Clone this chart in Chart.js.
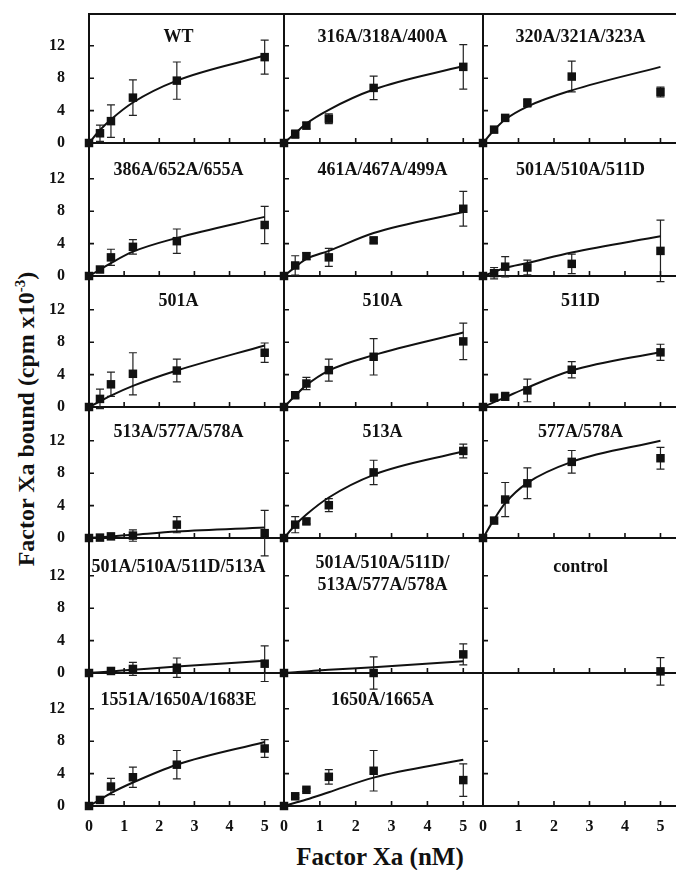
<!DOCTYPE html>
<html>
<head>
<meta charset="utf-8">
<script src="https://cdn.jsdelivr.net/npm/chart.js@4.4.0/dist/chart.umd.min.js"></script>
<style>
  body { margin: 0; width: 676px; height: 870px; background: #fff; overflow: hidden; position: relative; font-family: "Liberation Serif", "DejaVu Serif", serif; }
  canvas { position: absolute; }
  .axis-title { position: absolute; font-weight: bold; font-size: 24px; white-space: nowrap; color: #111; }
  #ytitle { left: 26px; top: 419px; transform: translate(-50%, -50%) rotate(-90deg); }
  #xtitle { left: 380px; top: 857px; transform: translate(-50%, -50%); font-size: 25px; }
  sup { font-size: 15px; }
</style>
</head>
<body>
<div class="axis-title" id="ytitle">Factor Xa bound (cpm x10<sup>-3</sup>)</div>
<div class="axis-title" id="xtitle">Factor Xa (nM)</div>
<script>
// Factor Xa concentrations (nM)
const xNM = [0, 0.3125, 0.625, 1.25, 2.5, 5];
const xTickVals = [0, 1, 2, 3, 4, 5];
const yTickVals = [0, 4, 8, 12];

// panels, row by row (3 per row)
const panelLabels = [
  'WT', '316A/318A/400A', '320A/321A/323A',
  '386A/652A/655A', '461A/467A/499A', '501A/510A/511D',
  '501A', '510A', '511D',
  '513A/577A/578A', '513A', '577A/578A',
  '501A/510A/511D/513A', ['501A/510A/511D/', '513A/577A/578A'], 'control',
  '1551A/1650A/1683E', '1650A/1665A', ''
];

// bound (cpm x10^-3), mean of measurements
const meanBound = [
  [0, 1.2, 2.7, 5.6, 7.7, 10.6],
  [0, 1.1, 2.15, 3.0, 6.8, 9.4],
  [0, 1.65, 3.1, 4.95, 8.2, 6.3],
  [0, 0.8, 2.3, 3.6, 4.3, 6.3],
  [0, 1.3, 2.45, 2.3, 4.4, 8.3],
  [0, 0.35, 1.15, 1.05, 1.5, 3.1],
  [0, 1.0, 2.8, 4.1, 4.5, 6.7],
  [0, 1.45, 2.9, 4.55, 6.2, 8.1],
  [0, 1.15, 1.3, 2.05, 4.6, 6.75],
  [0, 0.05, 0.2, 0.3, 1.65, 0.6],
  [0, 1.65, 2.05, 4.05, 8.1, 10.75],
  [0, 2.15, 4.75, 6.75, 9.4, 9.85],
  [0, null, 0.25, 0.5, 0.65, 1.15],
  [0, null, null, null, 0, 2.3],
  [null, null, null, null, null, 0.2],
  [0, 0.75, 2.4, 3.55, 5.1, 7.1],
  [0, 1.2, 2.0, 3.6, 4.35, 3.2],
  null
];

// standard deviation
const sdBound = [
  [0, 1.0, 2.0, 2.2, 2.3, 2.1],
  [0, 0.5, 0.4, 0.6, 1.45, 2.75],
  [0, 0.3, 0.3, 0.5, 1.9, 0.6],
  [0, 0.3, 1.0, 0.9, 1.5, 2.3],
  [0, 1.2, 0.4, 1.1, 0.3, 2.15],
  [0, 0.7, 1.25, 0.9, 1.2, 3.8],
  [0, 1.2, 1.5, 2.6, 1.4, 1.2],
  [0, 0.3, 0.75, 1.35, 2.25, 2.25],
  [0, 0.3, 0.5, 1.4, 1.0, 1.0],
  [0, 0.2, 0.3, 0.7, 1.0, 2.8],
  [0, 1.0, 0.3, 0.8, 1.5, 0.85],
  [0, 0.3, 2.1, 1.9, 1.4, 1.35],
  [0, 0, 0.2, 0.8, 1.2, 2.2],
  [0, 0, 0, 0, 2.0, 1.3],
  [0, 0, 0, 0, 0, 1.7],
  [0, 0.3, 1.0, 1.25, 1.75, 1.1],
  [0, 0.2, 0.2, 0.9, 2.5, 2.0],
  null
];

// fitted binding curve
const fitBound = [
  [0, 1.6, 2.9, 5.0, 7.7, 10.8],
  [0, 1.2, 2.4, 4.1, 6.6, 9.5],
  [0, 1.6, 2.9, 4.5, 6.5, 9.4],
  [0, 0.8, 1.6, 3.0, 4.7, 7.3],
  [0, 1.1, 2.1, 3.1, 5.3, 7.9],
  [0, 0.5, 1.0, 1.6, 2.9, 4.9],
  [0, 0.7, 1.4, 2.6, 4.5, 7.6],
  [0, 1.4, 2.7, 4.5, 6.4, 9.2],
  [0, 0.6, 1.2, 2.4, 4.5, 6.8],
  [0, 0.1, 0.2, 0.4, 0.8, 1.3],
  [0, 1.6, 2.9, 5.0, 7.8, 10.7],
  [0, 2.3, 4.3, 6.8, 9.4, 12.0],
  [0, 0.1, 0.2, 0.4, 0.8, 1.5],
  [0, 0.1, 0.2, 0.4, 0.7, 1.45],
  null,
  [0, 0.8, 1.6, 2.9, 5.1, 7.9],
  [0, 0.4, 0.8, 1.7, 3.5, 5.7],
  null
];

// grid layout in page pixels
const colLeft = [89, 284, 483];
const colWidth = [195, 199, 197];
const rowTop = [14, 143, 276, 407, 538, 673];
const rowZero = [143, 276, 407, 538, 673, 806];
const X_MAX = 5.55;
const PX_PER_Y = 8.1;
const FONT = 'Liberation Serif';
const INK = '#111';

const errorBars = {
  id: 'errorBars',
  beforeDatasetsDraw(chart) {
    const ds = chart.data.datasets.find(d => d.isMean);
    if (!ds) return;
    const { x: xs, y: ys } = chart.scales;
    const ctx = chart.ctx;
    ctx.save();
    ctx.strokeStyle = '#222';
    ctx.lineWidth = 1.2;
    ds.data.forEach(p => {
      if (!p.sd) return;
      const px = xs.getPixelForValue(p.x);
      const top = ys.getPixelForValue(p.y + p.sd);
      const bot = ys.getPixelForValue(p.y - p.sd);
      ctx.beginPath();
      ctx.moveTo(px, top); ctx.lineTo(px, bot);
      ctx.moveTo(px - 4, top); ctx.lineTo(px + 4, top);
      ctx.moveTo(px - 4, bot); ctx.lineTo(px + 4, bot);
      ctx.stroke();
    });
    ctx.restore();
  }
};

const panelDecor = {
  id: 'panelDecor',
  afterDraw(chart, args, opts) {
    const { x: xs, y: ys } = chart.scales;
    const { left, right, top, bottom } = chart.chartArea;
    const ctx = chart.ctx;
    ctx.save();
    ctx.strokeStyle = INK;
    ctx.lineWidth = 1.6;
    ctx.beginPath();
    yTickVals.forEach(v => {
      if (v === 0) return;
      const py = ys.getPixelForValue(v);
      ctx.moveTo(left, py); ctx.lineTo(left + 5, py);
    });
    xTickVals.forEach(v => {
      if (v === 0) return;
      const px = xs.getPixelForValue(v);
      ctx.moveTo(px, bottom); ctx.lineTo(px, bottom - 5);
    });
    ctx.stroke();
    if (opts.topBorder) {
      ctx.lineWidth = 2;
      ctx.beginPath();
      ctx.moveTo(left - 1, top); ctx.lineTo(right, top);
      ctx.stroke();
    }
    const lines = Array.isArray(opts.label) ? opts.label : [opts.label];
    if (lines[0]) {
      ctx.fillStyle = INK;
      ctx.font = 'bold 18px "' + FONT + '"';
      ctx.textAlign = 'center';
      ctx.textBaseline = 'middle';
      const cx = xs.getPixelForValue(opts.titleX);
      const cy = ys.getPixelForValue(lines.length > 1 ? 12.2 : 13);
      lines.forEach((t, k) => ctx.fillText(t, cx, cy + (k - (lines.length - 1) / 2) * 21.5));
    }
    ctx.restore();
  }
};

panelLabels.forEach((label, i) => {
  const r = Math.floor(i / 3), c = i % 3;
  const ML = c === 0 ? 60 : 14, MR = 14, MT = 14, MB = r === 5 ? 38 : 26;
  const w = colWidth[c], h = rowZero[r] - rowTop[r];
  const cv = document.createElement('canvas');
  cv.width = w + ML + MR;
  cv.height = h + MT + MB;
  cv.style.left = (colLeft[c] - ML) + 'px';
  cv.style.top = (rowTop[r] - MT) + 'px';
  document.body.appendChild(cv);

  const datasets = [];
  if (fitBound[i]) {
    datasets.push({
      data: xNM.map((x, k) => ({ x, y: fitBound[i][k] })),
      borderColor: INK, borderWidth: 2, pointRadius: 0,
      cubicInterpolationMode: 'monotone', clip: false, order: 2
    });
  }
  if (meanBound[i]) {
    datasets.push({
      isMean: true,
      data: xNM.map((x, k) => ({ x, y: meanBound[i][k], sd: sdBound[i][k] })).filter(p => p.y !== null),
      showLine: false, pointStyle: 'rect', pointRadius: 6,
      backgroundColor: INK, borderColor: INK, borderWidth: 0, clip: false, order: 1
    });
  }

  new Chart(cv.getContext('2d'), {
    type: 'line',
    data: { datasets },
    plugins: [errorBars, panelDecor],
    options: {
      responsive: false,
      animation: false,
      devicePixelRatio: 1,
      layout: { padding: { left: 0, right: MR, top: MT, bottom: 0 } },
      plugins: {
        legend: { display: false },
        tooltip: { enabled: false },
        panelDecor: { label, titleX: c === 0 ? 2.55 : 2.75, topBorder: r === 0 }
      },
      scales: {
        x: {
          type: 'linear', min: 0, max: X_MAX,
          grid: { display: false },
          border: { display: true, color: INK, width: 2 },
          afterBuildTicks: s => { s.ticks = xTickVals.map(v => ({ value: v })); },
          afterFit: s => { s.height = MB; s.paddingLeft = 0; s.paddingRight = 0; },
          ticks: {
            display: r === 5, color: INK, padding: 3, maxRotation: 0, autoSkip: false,
            font: { family: FONT, size: 16, weight: 'bold' }
          }
        },
        y: {
          type: 'linear', min: 0, max: h / PX_PER_Y,
          grid: { display: false },
          border: { display: true, color: INK, width: 2 },
          afterBuildTicks: s => { s.ticks = yTickVals.map(v => ({ value: v })); },
          afterFit: s => { s.width = ML; s.paddingTop = 0; s.paddingBottom = 0; },
          ticks: {
            display: c === 0, color: INK, padding: 16, autoSkip: false,
            font: { family: FONT, size: 16, weight: 'bold' }
          }
        }
      }
    }
  });
});
</script>
</body>
</html>
